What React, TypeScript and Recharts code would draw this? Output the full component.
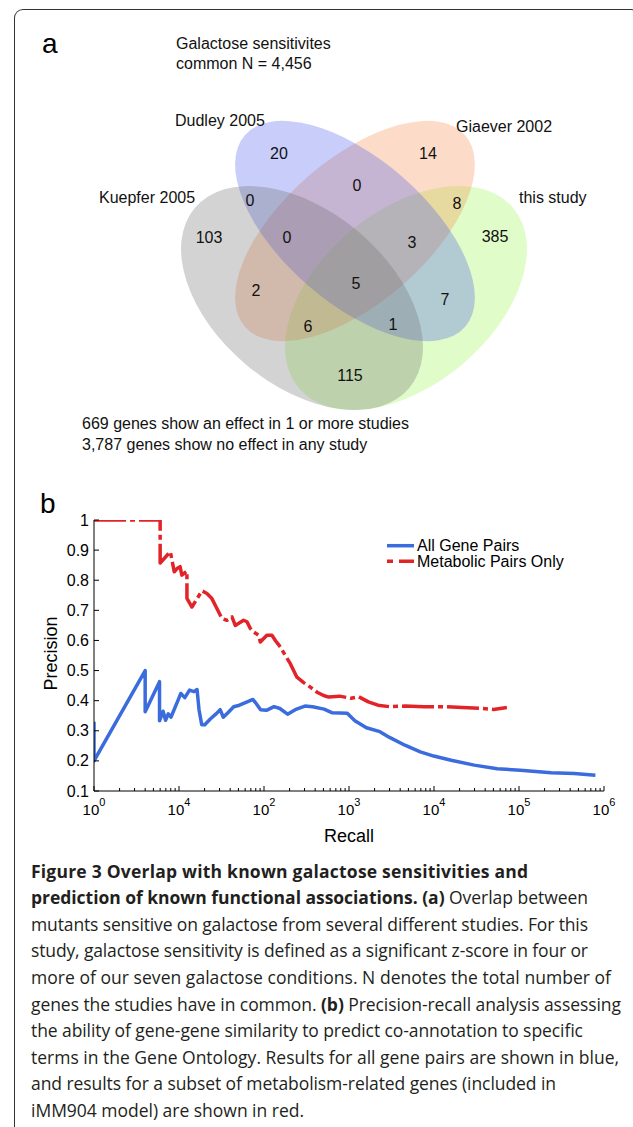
import React from 'react';
import { ScatterChart, Scatter, XAxis, YAxis, LineChart, Line, Legend, Label } from 'recharts';

// ---------------- Panel a : Venn diagram data ----------------
const setNames = ['this study', 'Giaever 2002', 'Dudley 2005', 'Kuepfer 2005'];
const regionCounts = [20, 14, 0, 0, 8, 103, 0, 3, 385, 5, 2, 7, 6, 1, 115];
const titleLines = ['Galactose sensitivites', 'common N = 4,456'];
const footLines = ['669 genes show an effect in 1 or more studies', '3,787 genes show no effect in any study'];

// ---------------- Panel b : precision / recall data ----------------
const allRecall = [1, 1, 4, 4, 5.9, 5.9, 6.5, 6.95, 7.47, 8.04, 9.7, 10.5, 11.7, 13.3, 15, 16.3, 17.2, 18.5, 20.1, 23.5, 27.5, 30.5, 33.2, 37.6, 44, 51.4, 63.4, 74, 79.7, 91.2, 106.7, 131.4, 153.7, 189.3, 233, 303, 373, 509, 628, 953, 1173, 1603, 2310, 3000, 4550, 6900, 9930, 15900, 29700, 55500, 103700, 238800, 446000, 792000];
const allPrecision = [0.33, 0.2, 0.5, 0.363, 0.463, 0.333, 0.365, 0.335, 0.356, 0.345, 0.4, 0.424, 0.41, 0.435, 0.43, 0.437, 0.37, 0.32, 0.32, 0.34, 0.357, 0.37, 0.345, 0.36, 0.38, 0.385, 0.396, 0.404, 0.393, 0.37, 0.368, 0.38, 0.374, 0.355, 0.37, 0.382, 0.38, 0.372, 0.36, 0.358, 0.333, 0.31, 0.297, 0.278, 0.252, 0.23, 0.216, 0.202, 0.186, 0.174, 0.169, 0.161, 0.158, 0.152];
const metRecall = [1, 6, 6, 7.9, 8.8, 9.6, 10.3, 10.8, 12.4, 12.4, 14.2, 18.6, 21.3, 24.4, 26.7, 29.2, 32, 36.6, 42, 45.9, 57.5, 63, 69, 75.5, 86.5, 90.5, 108, 124, 136, 156, 178, 204, 223, 244, 293, 351, 421, 503, 576, 773, 1057, 1300, 1690, 2190, 3000, 4550, 7650, 12800, 21700, 36500, 50000, 60000, 72000];
const metPrecision = [1, 1, 0.857, 0.895, 0.828, 0.84, 0.845, 0.817, 0.83, 0.74, 0.711, 0.765, 0.756, 0.739, 0.717, 0.695, 0.673, 0.667, 0.678, 0.65, 0.667, 0.662, 0.64, 0.628, 0.617, 0.595, 0.617, 0.617, 0.6, 0.578, 0.55, 0.523, 0.5, 0.478, 0.46, 0.445, 0.428, 0.417, 0.412, 0.415, 0.408, 0.413, 0.396, 0.385, 0.38, 0.382, 0.38, 0.38, 0.377, 0.374, 0.371, 0.374, 0.377];
const seriesNames = ['All Gene Pairs', 'Metabolic Pairs Only'];
const xTickValues = [1, 10, 100, 1000, 10000, 100000, 1000000];
const xTickExponents = ['0', '4', '2', '3', '4', '5', '6'];
const yTickValues = [0.1, 0.2, 0.3, 0.4, 0.5, 0.6, 0.7, 0.8, 0.9, 1];

// ---------------- caption ----------------
const captionLines: [string, boolean][][] = [
  [['Figure 3 Overlap with known galactose sensitivities and', true]],
  [['prediction of known functional associations. (a)', true], [' Overlap between', false]],
  [['mutants sensitive on galactose from several different studies. For this', false]],
  [['study, galactose sensitivity is defined as a significant z-score in four or', false]],
  [['more of our seven galactose conditions. N denotes the total number of', false]],
  [['genes the studies have in common. ', false], ['(b)', true], [' Precision-recall analysis assessing', false]],
  [['the ability of gene-gene similarity to predict co-annotation to specific', false]],
  [['terms in the Gene Ontology. Results for all gene pairs are shown in blue,', false]],
  [['and results for a subset of metabolism-related genes (included in', false]],
  [['iMM904 model) are shown in red.', false]],
];

// ---------------- layout / style ----------------
const FONT = '"Liberation Sans", Arial, Helvetica, sans-serif';
const CAP_FONT = '"Open Sans", "Noto Sans", sans-serif';
const ellipseGeom = [
  { rx: 140, ry: 87, angle: -40, color: '#98f548', cx: 406, cy: 298 },
  { rx: 146, ry: 72, angle: -41, color: '#f58a48', cx: 355, cy: 231 },
  { rx: 146, ry: 72, angle: 41, color: '#4858ee', cx: 355, cy: 231 },
  { rx: 140, ry: 87, angle: 40, color: '#6c6c6c', cx: 302, cy: 298 },
];
const setLabelPos = [[519, 197], [456, 126], [175, 120], [99, 197]];
const regionPos = [[279, 153], [428, 153], [357, 185], [250, 200], [457, 203], [209, 237], [287, 237], [412, 242], [495, 236], [356, 283], [256, 290], [445, 299], [308, 326], [393, 324], [350, 375]];
const titlePos = [[176, 43], [176, 63]];
const footPos = [[82, 423], [82, 444]];
const captionEnds = [528, 588, 588, 588, 611, 621, 583, 619, 556, 304];
const BLUE = '#3b6cdd';
const RED = '#e22328';

const ellipseData = setNames.map((name, i) => ({ x: ellipseGeom[i].cx, y: ellipseGeom[i].cy, name, i }));
const regionData = regionCounts.map((c, i) => ({ x: regionPos[i][0], y: regionPos[i][1], label: String(c), anchor: 'middle' }));
const setLabelData = setNames.map((n, i) => ({ x: setLabelPos[i][0], y: setLabelPos[i][1], label: n, anchor: 'start' }));
const noteData = [
  ...titleLines.map((t, i) => ({ x: titlePos[i][0], y: titlePos[i][1], label: t, anchor: 'start' })),
  ...footLines.map((t, i) => ({ x: footPos[i][0], y: footPos[i][1], label: t, anchor: 'start' })),
];

const allData = allRecall.map((r, i) => ({ x: r, y: allPrecision[i] }));
const metData = metRecall.map((r, i) => ({ x: r, y: metPrecision[i] }));
const allXTicks: number[] = [];
[1, 10, 100, 1000, 10000, 100000].forEach((d) => {
  for (let m = 1; m <= 9; m++) allXTicks.push(m * d);
});
allXTicks.push(1000000);

const EllipseShape = (p: any) => {
  const g = ellipseGeom[p.payload.i];
  return (
    <ellipse cx={p.cx} cy={p.cy} rx={g.rx} ry={g.ry} transform={`rotate(${g.angle} ${p.cx} ${p.cy})`}
      fill={g.color} fillOpacity={0.3} stroke="none" />
  );
};
const TextShape = (p: any) => (
  <text x={p.cx} y={p.cy} textAnchor={p.payload.anchor} dominantBaseline="central" fontSize={16}
    fontFamily={FONT} fill="#111">{p.payload.label}</text>
);

const BottomTick = (props: any) => {
  const { x, y, payload } = props;
  const k = xTickValues.indexOf(payload.value);
  const major = k >= 0;
  return (
    <g>
      <line x1={x} x2={x} y1={y} y2={y - (major ? 5 : 3)} stroke="#000" strokeWidth={1} />
      {major && (
        <text x={x} y={y + 24} textAnchor="middle" fontSize={15} fill="#000" fontFamily={FONT}>
          10<tspan dy={-9} fontSize={11}>{xTickExponents[k]}</tspan>
        </text>
      )}
    </g>
  );
};
const TopTick = (props: any) => {
  const { x, y, payload } = props;
  const major = xTickValues.indexOf(payload.value) >= 0;
  return <line x1={x} x2={x} y1={y} y2={y + (major ? 5 : 3)} stroke="#000" strokeWidth={1} />;
};
const LeftTick = (props: any) => {
  const { x, y, payload } = props;
  const v = payload.value;
  return (
    <g>
      <line x1={x} x2={x + 5} y1={y} y2={y} stroke="#000" strokeWidth={1} />
      <text x={x - 5} y={y} textAnchor="end" dominantBaseline="central" fontSize={16} fill="#000" fontFamily={FONT}>
        {v === 1 ? '1' : v.toFixed(1)}
      </text>
    </g>
  );
};
const RightTick = (props: any) => {
  const { x, y } = props;
  return <line x1={x - 5} x2={x} y1={y} y2={y} stroke="#000" strokeWidth={1} />;
};

const RecallLabel = (p: any) => {
  const vb = p.viewBox || { x: 94, y: 311, width: 510, height: 60 };
  return (
    <text x={vb.x + vb.width / 2} y={vb.y + 45} textAnchor="middle" dominantBaseline="central" fontSize={18}
      fill="#000" fontFamily={FONT}>Recall</text>
  );
};
const PrecisionLabel = (p: any) => {
  const vb = p.viewBox || { x: 0, y: 40, width: 94, height: 271 };
  const cy = vb.y + vb.height / 2 - 2;
  return (
    <text x={51} y={cy} transform={`rotate(-90 51 ${cy})`} textAnchor="middle" dominantBaseline="central"
      fontSize={18} fill="#000" fontFamily={FONT}>Precision</text>
  );
};

const LegendContent = (props: any) => {
  const items = props.payload || [];
  return (
    <svg width={240} height={34} style={{ display: 'block' }}>
      {items.map((it: any, i: number) => {
        const yy = 7.7 + i * 15.5;
        return (
          <g key={i}>
            <line x1={2} x2={29} y1={yy} y2={yy} stroke={it.color} strokeWidth={3.5}
              strokeDasharray={i === 1 ? '6 6 15 100' : undefined} />
            <text x={32} y={yy} dominantBaseline="central" fontSize={16} fill="#000" fontFamily={FONT}>{it.value}</text>
          </g>
        );
      })}
    </svg>
  );
};

export default function App() {
  return (
    <div style={{ position: 'absolute', left: 0, top: 0, width: 633, height: 1127, overflow: 'hidden', background: '#fff', fontFamily: FONT }}>
      <div style={{
        position: 'absolute', left: 14, top: 9, width: 626, height: 1200, boxSizing: 'border-box',
        borderLeft: '1.5px solid #333', borderTop: '1.5px solid #333', borderRight: '1.5px solid #333',
        borderTopLeftRadius: 9, borderTopRightRadius: 9,
      }} />

      <div style={{ position: 'absolute', left: 0, top: 0 }}>
        <ScatterChart width={633} height={470} margin={{ top: 0, right: 0, bottom: 0, left: 0 }}>
          <XAxis type="number" dataKey="x" domain={[0, 633]} hide allowDataOverflow />
          <YAxis type="number" dataKey="y" domain={[0, 470]} reversed hide allowDataOverflow />
          <Scatter data={ellipseData} shape={EllipseShape} isAnimationActive={false} />
          <Scatter data={regionData} shape={TextShape} isAnimationActive={false} />
          <Scatter data={setLabelData} shape={TextShape} isAnimationActive={false} />
          <Scatter data={noteData} shape={TextShape} isAnimationActive={false} />
        </ScatterChart>
      </div>

      <div style={{ position: 'absolute', left: 0, top: 480 }}>
        <LineChart width={633} height={371} margin={{ top: 40, right: 29, bottom: 0, left: 0 }}>
          <XAxis dataKey="x" type="number" scale="log" domain={[1, 1000000]} allowDataOverflow ticks={allXTicks}
            interval={0} tick={<BottomTick />} tickLine={false} tickSize={0} tickMargin={0} height={60}
            axisLine={{ stroke: '#000', strokeWidth: 1 }}>
            <Label content={RecallLabel} />
          </XAxis>
          <XAxis xAxisId="top" orientation="top" dataKey="x" type="number" scale="log" domain={[1, 1000000]}
            allowDataOverflow ticks={allXTicks} interval={0} tick={<TopTick />} tickLine={false} tickSize={0}
            tickMargin={0} height={0} axisLine={{ stroke: '#000', strokeWidth: 1 }} />
          <YAxis type="number" domain={[0.1, 1]} ticks={yTickValues} interval={0} allowDataOverflow
            tick={<LeftTick />} tickLine={false} tickSize={0} tickMargin={0} width={94}
            axisLine={{ stroke: '#000', strokeWidth: 1 }}>
            <Label content={PrecisionLabel} />
          </YAxis>
          <YAxis yAxisId="r" orientation="right" type="number" domain={[0.1, 1]} ticks={yTickValues} interval={0}
            allowDataOverflow tick={<RightTick />} tickLine={false} tickSize={0} tickMargin={0} width={0}
            axisLine={{ stroke: '#000', strokeWidth: 1 }} />
          <Legend layout="horizontal" verticalAlign="middle" align="center" content={LegendContent}
            wrapperStyle={{ position: 'absolute', left: 385, top: 58, width: 240, height: 34 }} />
          <Line data={allData} dataKey="y" name={seriesNames[0]} type="linear" stroke={BLUE} strokeWidth={3.5}
            dot={false} activeDot={false} strokeLinejoin="round" isAnimationActive={false} />
          <Line data={metData} dataKey="y" name={seriesNames[1]} type="linear" stroke={RED} strokeWidth={3.5}
            dot={false} activeDot={false} strokeDasharray="32 4 5 4" strokeLinejoin="round" isAnimationActive={false} />
        </LineChart>
      </div>

      <svg style={{ position: 'absolute', left: 0, top: 0 }} width={633} height={560}>
        <text x={42} y={53} fontSize={28} fontFamily={FONT} fill="#000">a</text>
        <text x={40} y={513} fontSize={28} fontFamily={FONT} fill="#000">b</text>
      </svg>

      <svg style={{ position: 'absolute', left: 0, top: 850 }} width={633} height={277}>
        {captionLines.map((parts, i) => (
          <text key={i} x={31} y={27.5 + i * 26.6} fontSize={17.5} fontFamily={CAP_FONT} fill="#231f20"
            xmlSpace="preserve" textLength={captionEnds[i] - 31} lengthAdjust="spacing" style={{ whiteSpace: 'pre' }}>
            {parts.map(([t, b], j) => (
              <tspan key={j} fontWeight={b ? 700 : 400}>{t}</tspan>
            ))}
          </text>
        ))}
      </svg>
    </div>
  );
}
